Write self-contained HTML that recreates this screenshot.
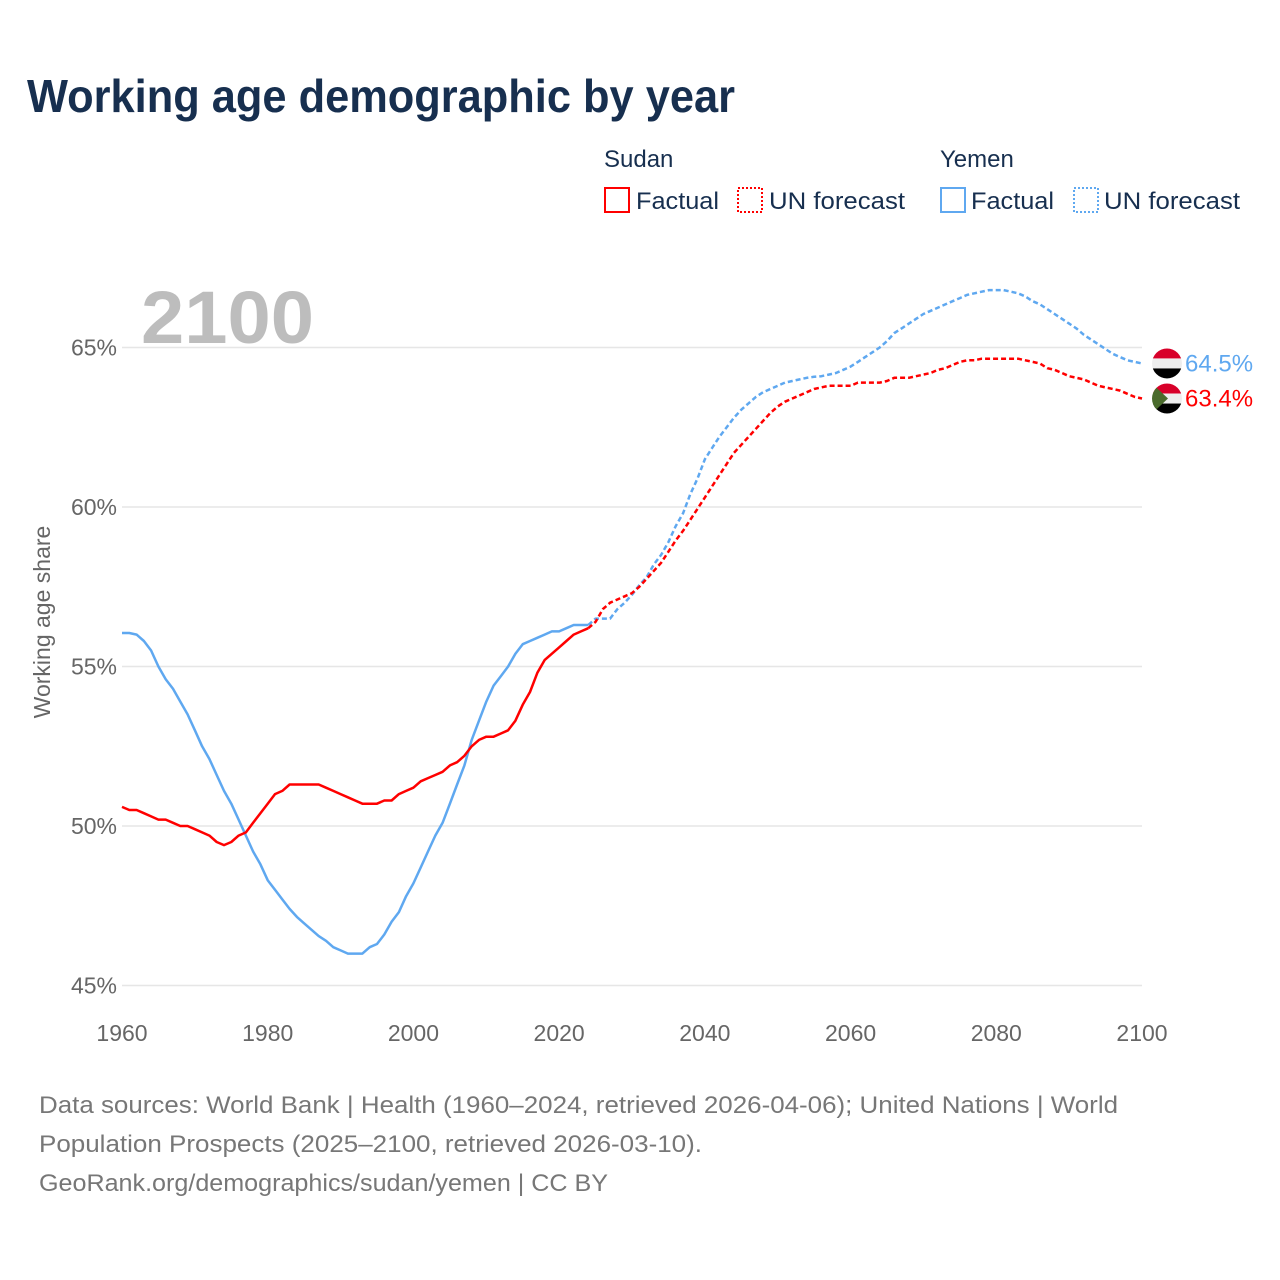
<!DOCTYPE html>
<html><head><meta charset="utf-8"><style>
html,body{margin:0;padding:0;background:#fff;}
svg{display:block;font-family:"Liberation Sans",sans-serif;}
</style></head><body>
<svg id="chart" width="1280" height="1280" viewBox="0 0 1280 1280">
<text x="27" y="112" font-size="46" font-weight="bold" fill="#172f4f" textLength="708" lengthAdjust="spacingAndGlyphs">Working age demographic by year</text>
<g>
<text x="604" y="167" font-size="24" fill="#172f4f">Sudan</text>
<rect x="605" y="188" width="24" height="24" fill="none" stroke="#f00" stroke-width="2"/>
<text x="636" y="209" font-size="24" fill="#172f4f" textLength="83" lengthAdjust="spacingAndGlyphs">Factual</text>
<rect x="738" y="188" width="24" height="24" fill="none" stroke="#f00" stroke-width="2" stroke-dasharray="2 2"/>
<text x="769" y="209" font-size="24" fill="#172f4f" textLength="136" lengthAdjust="spacingAndGlyphs">UN forecast</text>
<text x="940" y="167" font-size="24" fill="#172f4f">Yemen</text>
<rect x="941" y="188" width="24" height="24" fill="none" stroke="#5fa8f0" stroke-width="2"/>
<text x="971" y="209" font-size="24" fill="#172f4f" textLength="83" lengthAdjust="spacingAndGlyphs">Factual</text>
<rect x="1074" y="188" width="24" height="24" fill="none" stroke="#5fa8f0" stroke-width="2" stroke-dasharray="2 2"/>
<text x="1104" y="209" font-size="24" fill="#172f4f" textLength="136" lengthAdjust="spacingAndGlyphs">UN forecast</text>
</g>
<text x="141" y="343" font-size="74" font-weight="bold" fill="#bdbdbd" textLength="173" lengthAdjust="spacingAndGlyphs">2100</text>
<g id="grid"></g>
<g id="axes"></g>
<g id="series"></g>
<text transform="translate(50,622) rotate(-90)" text-anchor="middle" font-size="23" fill="#666">Working age share</text>
<g font-size="24" fill="#777">
<text x="39" y="1113" textLength="1079" lengthAdjust="spacingAndGlyphs">Data sources: World Bank | Health (1960–2024, retrieved 2026-04-06); United Nations | World</text>
<text x="39" y="1152" textLength="663" lengthAdjust="spacingAndGlyphs">Population Prospects (2025–2100, retrieved 2026-03-10).</text>
<text x="39" y="1191" textLength="569" lengthAdjust="spacingAndGlyphs">GeoRank.org/demographics/sudan/yemen | CC BY</text>
</g>
</svg>
<script>
const xTicks = [1960,1980,2000,2020,2040,2060,2080,2100];
const yTicks = [45,50,55,60,65];
const sudanFactual = [50.6,50.5,50.5,50.4,50.3,50.2,50.2,50.1,50.0,50.0,49.9,49.8,49.7,49.5,49.4,49.5,49.7,49.8,50.1,50.4,50.7,51.0,51.1,51.3,51.3,51.3,51.3,51.3,51.2,51.1,51.0,50.9,50.8,50.7,50.7,50.7,50.8,50.8,51.0,51.1,51.2,51.4,51.5,51.6,51.7,51.9,52.0,52.2,52.5,52.7,52.8,52.8,52.9,53.0,53.3,53.8,54.2,54.8,55.2,55.4,55.6,55.8,56.0,56.1,56.2];
const sudanForecast = [56.2,56.4,56.8,57.0,57.1,57.2,57.3,57.5,57.75,58.0,58.25,58.6,58.95,59.25,59.6,59.95,60.3,60.65,61.0,61.35,61.7,61.95,62.2,62.45,62.7,62.95,63.15,63.3,63.4,63.5,63.6,63.7,63.75,63.8,63.8,63.8,63.8,63.9,63.9,63.9,63.9,63.95,64.05,64.05,64.05,64.1,64.15,64.2,64.3,64.35,64.45,64.55,64.6,64.6,64.65,64.65,64.65,64.65,64.65,64.65,64.6,64.55,64.5,64.35,64.3,64.2,64.1,64.05,64.0,63.9,63.8,63.75,63.7,63.65,63.55,63.45,63.4];
const yemenFactual = [56.05,56.05,56.0,55.8,55.5,55.0,54.6,54.3,53.9,53.5,53.0,52.5,52.1,51.6,51.1,50.7,50.2,49.7,49.2,48.8,48.3,48.0,47.7,47.4,47.15,46.95,46.75,46.55,46.4,46.2,46.1,46.0,46.0,46.0,46.2,46.3,46.6,47.0,47.3,47.8,48.2,48.7,49.2,49.7,50.1,50.7,51.3,51.9,52.7,53.3,53.9,54.4,54.7,55.0,55.4,55.7,55.8,55.9,56.0,56.1,56.1,56.2,56.3,56.3,56.3];
const yemenForecast = [56.3,56.5,56.5,56.5,56.8,57.0,57.25,57.55,57.8,58.2,58.5,58.9,59.4,59.8,60.4,60.9,61.5,61.85,62.2,62.5,62.8,63.05,63.25,63.45,63.6,63.7,63.8,63.9,63.95,64.0,64.05,64.08,64.1,64.15,64.2,64.3,64.4,64.55,64.7,64.85,65.0,65.2,65.45,65.6,65.75,65.9,66.05,66.15,66.25,66.35,66.45,66.55,66.65,66.7,66.75,66.8,66.8,66.8,66.75,66.7,66.6,66.45,66.35,66.2,66.05,65.9,65.75,65.6,65.4,65.25,65.1,64.95,64.8,64.7,64.6,64.55,64.5];
const factualStart = 1960, forecastStart = 2024;

const NS = "http://www.w3.org/2000/svg";
function X(yr){ return 122 + (yr-1960)*(1020/140); }
function Y(v){ return 826 - (v-50)*31.9; }
function mk(tag, attrs, parent){ const e=document.createElementNS(NS,tag); for(const k in attrs) e.setAttribute(k,attrs[k]); parent.appendChild(e); return e; }
const grid=document.getElementById('grid'), axes=document.getElementById('axes'), series=document.getElementById('series');
yTicks.forEach(v=>{
  const l=mk('line',{x1:122,x2:1142,y1:Y(v),y2:Y(v),stroke:'#e6e6e6','stroke-width':1.5},grid);
  
  
  const t=mk('text',{x:117,y:Y(v)+8,'text-anchor':'end','font-size':23,fill:'#666'},axes);
  t.textContent=v+'%';
  
  
});
xTicks.forEach(yr=>{
  const t=mk('text',{x:X(yr),y:1041,'text-anchor':'middle','font-size':23,fill:'#666'},axes);
  t.textContent=yr;
  
  
});
function line(vals,start,color,dash,name){
  const d=vals.map((v,i)=>(i?'L':'M')+X(start+i).toFixed(1)+' '+Y(v).toFixed(1)).join(' ');
  const p=mk('path',{d:d,fill:'none',stroke:color,'stroke-width':2.5,'stroke-linejoin':'round'},series);
  if(dash) p.setAttribute('stroke-dasharray','5 3');
  
  
}
line(yemenFactual,factualStart,'#5fa8f0',false,'line-yemen-factual');
line(sudanFactual,factualStart,'#f00',false,'line-sudan-factual');
line(yemenForecast,forecastStart,'#5fa8f0',true,'line-yemen-forecast');
line(sudanForecast,forecastStart,'#f00',true,'line-sudan-forecast');

function flag(cy,kind,label,color,name){
  const g=mk('g',{},series);
  
  
  const id='clip'+kind;
  const cp=mk('clipPath',{id:id},g); mk('circle',{cx:1167,cy:cy,r:15},cp);
  const gg=mk('g',{'clip-path':'url(#'+id+')'},g);
  mk('rect',{x:1152,y:cy-15,width:30,height:10,fill:'#d8002a'},gg);
  mk('rect',{x:1152,y:cy-5,width:30,height:10,fill:'#eee'},gg);
  mk('rect',{x:1152,y:cy+5,width:30,height:10,fill:'#000'},gg);
  if(kind==='sd') mk('polygon',{points:(1152)+','+(cy-15)+' '+(1168)+','+cy+' '+(1152)+','+(cy+15),fill:'#4a6b2c'},gg);
  const t=mk('text',{x:1185,y:cy+8,'font-size':24,fill:color},g);
  t.textContent=label;
  
  
}
flag(Y(yemenForecast[yemenForecast.length-1]),'ye',yemenForecast[yemenForecast.length-1].toFixed(1)+'%','#5fa8f0','yemen');
flag(Y(sudanForecast[sudanForecast.length-1]),'sd',sudanForecast[sudanForecast.length-1].toFixed(1)+'%','#f00','sudan');
</script>
</body></html>
